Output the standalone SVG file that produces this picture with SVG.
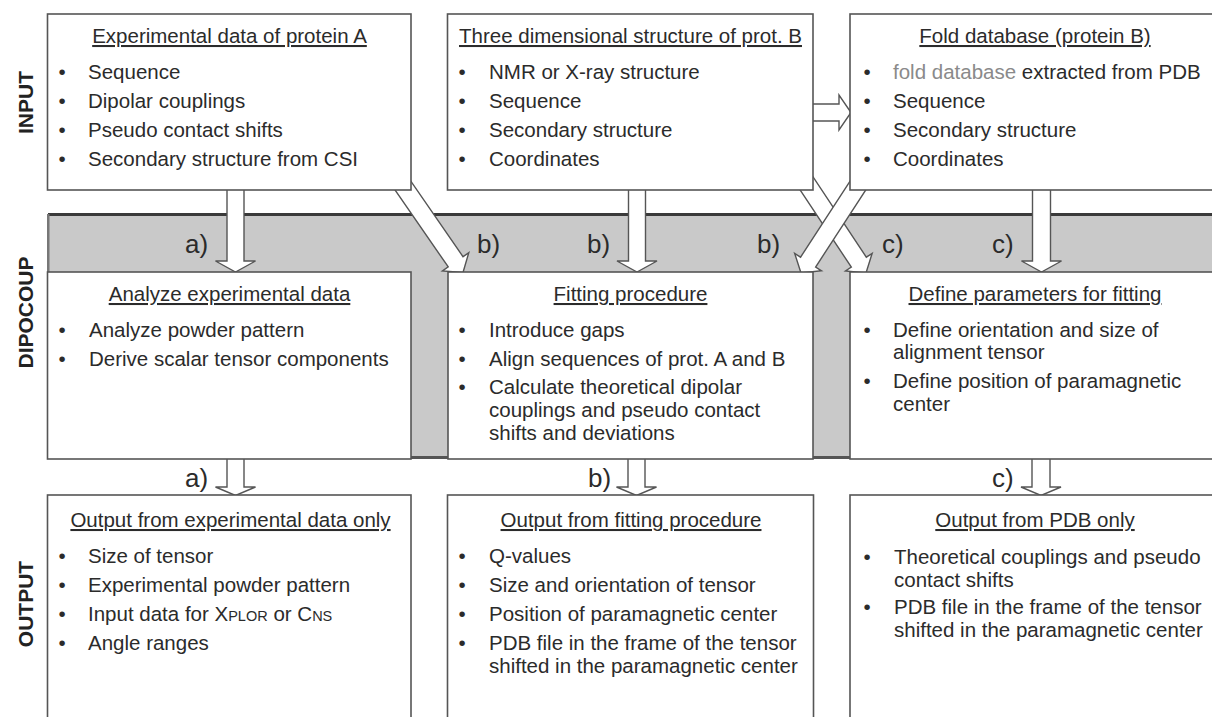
<svg xmlns="http://www.w3.org/2000/svg" width="1212" height="717" viewBox="0 0 1212 717">
<style>
.box{fill:#fff;stroke:#555;stroke-width:1.6}
.t{font-family:"Liberation Sans",Arial,sans-serif;font-size:20.5px;fill:#2b2b2b}
.ti{text-anchor:middle;text-decoration:underline}
.lbl{font-family:"Liberation Sans",Arial,sans-serif;font-size:26px;fill:#2b2b2b}
.row{font-family:"Liberation Sans",Arial,sans-serif;font-size:21px;font-weight:bold;fill:#222;text-anchor:middle}
.arr{fill:#fff;stroke:#555;stroke-width:1.4;stroke-linejoin:miter}
.sc{font-size:14.5px}
.lt{fill:#8a8a8a}
</style>
<rect width="1212" height="717" fill="#fff"/>
<g id="band">
<rect x="48" y="214" width="1170" height="245" fill="#c9c9c9"/>
<rect x="48" y="213" width="1170" height="3" fill="#3a3a3a"/>
<rect x="47" y="214" width="2.5" height="60" fill="#777"/>
<rect x="410" y="456" width="40" height="3" fill="#555"/>
<rect x="812" y="456" width="40" height="3" fill="#555"/>
</g>
<g id="row-labels">
<text class="row" transform="translate(33,102.5) rotate(-90)">INPUT</text>
<text class="row" transform="translate(33,312.5) rotate(-90)">DIPOCOUP</text>
<text class="row" transform="translate(33,604) rotate(-90)">OUTPUT</text>
</g>
<g id="connectors">
<path class="arr" d="M227,188 V261 H215.5 L235.5,272 L255.5,261 H244 V188"/>
<path class="arr" d="M628.5,188 V261 H617 L637,272 L657,261 H645.5 V188"/>
<path class="arr" d="M1032.5,188 V261 H1021.5 L1041.5,272 L1061.5,261 H1050.5 V188"/>
<path class="arr" d="M394.63,173.55 L387.23,178.67 L448.21,266.92 L442.45,270.89 L463,272.5 L468.77,252.71 L463.01,256.68 L402.03,168.43 Z"/>
<path class="arr" d="M792.45,178.3 L851.32,267.13 L845.48,271 L866,273 L872.16,253.32 L866.32,257.19 L807.45,168.36 Z"/>
<path class="arr" d="M858.37,168.33 L800.55,257.19 L794.68,253.38 L801,273 L821.5,270.82 L815.63,267.01 L873.45,178.15 Z"/>
<path class="arr" d="M811,104 H839 V95 L851,112.5 L839,130 V121 H811"/>
<path class="arr" d="M227,457 V487 H215.5 L235.5,495.5 L255.5,487 H244 V457"/>
<path class="arr" d="M628,457 V487 H616.5 L636.5,495.5 L656.5,487 H645 V457"/>
<path class="arr" d="M1032,457 V487 H1021 L1041,495.5 L1061,487 H1050 V457"/>
<text class="lbl" x="185" y="253">a)</text>
<text class="lbl" x="477" y="253">b)</text>
<text class="lbl" x="587" y="253">b)</text>
<text class="lbl" x="757" y="253">b)</text>
<text class="lbl" x="882" y="253">c)</text>
<text class="lbl" x="992" y="253">c)</text>
<text class="lbl" x="185" y="487">a)</text>
<text class="lbl" x="588" y="487">b)</text>
<text class="lbl" x="992" y="487">c)</text>
</g>
<g id="n-expA">
<rect class="box" x="47.5" y="14" width="363.5" height="176"/>
<text class="t ti" x="229.5" y="43">Experimental data of protein A</text>
<text class="t" x="58.5" y="79">•</text><text class="t" x="88" y="79">Sequence</text>
<text class="t" x="58.5" y="108">•</text><text class="t" x="88" y="108">Dipolar couplings</text>
<text class="t" x="58.5" y="137">•</text><text class="t" x="88" y="137">Pseudo contact shifts</text>
<text class="t" x="58.5" y="166">•</text><text class="t" x="88" y="166">Secondary structure from CSI</text>
</g>
<g id="n-structB">
<rect class="box" x="447.5" y="14" width="365.5" height="176"/>
<text class="t ti" x="630.5" y="43">Three dimensional structure of prot. B</text>
<text class="t" x="458.5" y="79">•</text><text class="t" x="489" y="79">NMR or X-ray structure</text>
<text class="t" x="458.5" y="108">•</text><text class="t" x="489" y="108">Sequence</text>
<text class="t" x="458.5" y="137">•</text><text class="t" x="489" y="137">Secondary structure</text>
<text class="t" x="458.5" y="166">•</text><text class="t" x="489" y="166">Coordinates</text>
</g>
<g id="n-fold">
<rect class="box" x="850" y="14" width="370" height="176"/>
<text class="t ti" x="1035" y="43">Fold database (protein B)</text>
<text class="t" x="863.5" y="79">•</text><text class="t" x="893" y="79"><tspan class="lt">fold database</tspan> extracted from PDB</text>
<text class="t" x="863.5" y="108">•</text><text class="t" x="893" y="108">Sequence</text>
<text class="t" x="863.5" y="137">•</text><text class="t" x="893" y="137">Secondary structure</text>
<text class="t" x="863.5" y="166">•</text><text class="t" x="893" y="166">Coordinates</text>
</g>
<g id="n-analyze">
<rect class="box" x="47.5" y="272" width="363.5" height="187"/>
<text class="t ti" x="229.5" y="301">Analyze experimental data</text>
<text class="t" x="58.5" y="337">•</text><text class="t" x="89" y="337">Analyze powder pattern</text>
<text class="t" x="58.5" y="366">•</text><text class="t" x="89" y="366">Derive scalar tensor components</text>
</g>
<g id="n-fitting">
<rect class="box" x="448" y="272" width="365" height="187"/>
<text class="t ti" x="630.5" y="301">Fitting procedure</text>
<text class="t" x="458.5" y="337">•</text><text class="t" x="489" y="337">Introduce gaps</text>
<text class="t" x="458.5" y="366">•</text><text class="t" x="489" y="366">Align sequences of prot. A and B</text>
<text class="t" x="458.5" y="394">•</text><text class="t" x="489" y="394">Calculate theoretical dipolar</text>
<text class="t" x="489" y="417">couplings and pseudo contact</text>
<text class="t" x="489" y="440">shifts and deviations</text>
</g>
<g id="n-params">
<rect class="box" x="850" y="272" width="370" height="187"/>
<text class="t ti" x="1035" y="301">Define parameters for fitting</text>
<text class="t" x="863.5" y="337">•</text><text class="t" x="893" y="337">Define orientation and size of</text>
<text class="t" x="893" y="359">alignment tensor</text>
<text class="t" x="863.5" y="388">•</text><text class="t" x="893" y="388">Define position of paramagnetic</text>
<text class="t" x="893" y="411">center</text>
</g>
<g id="n-outA">
<rect class="box" x="47.5" y="495" width="363.5" height="230"/>
<text class="t ti" x="230.5" y="527">Output from experimental data only</text>
<text class="t" x="58.5" y="563">•</text><text class="t" x="88" y="563">Size of tensor</text>
<text class="t" x="58.5" y="592">•</text><text class="t" x="88" y="592">Experimental powder pattern</text>
<text class="t" x="58.5" y="621">•</text><text class="t" x="88" y="621">Input data for X<tspan class="sc">PLOR</tspan> or C<tspan class="sc">NS</tspan></text>
<text class="t" x="58.5" y="650">•</text><text class="t" x="88" y="650">Angle ranges</text>
</g>
<g id="n-outFit">
<rect class="box" x="447.5" y="495" width="366" height="230"/>
<text class="t ti" x="631" y="527">Output from fitting procedure</text>
<text class="t" x="458.5" y="563">•</text><text class="t" x="489" y="563">Q-values</text>
<text class="t" x="458.5" y="592">•</text><text class="t" x="489" y="592">Size and orientation of tensor</text>
<text class="t" x="458.5" y="621">•</text><text class="t" x="489" y="621">Position of paramagnetic center</text>
<text class="t" x="458.5" y="650">•</text><text class="t" x="489" y="650">PDB file in the frame of the tensor</text>
<text class="t" x="489" y="673">shifted in the paramagnetic center</text>
</g>
<g id="n-outPDB">
<rect class="box" x="850" y="495" width="370" height="230"/>
<text class="t ti" x="1035" y="527">Output from PDB only</text>
<text class="t" x="863.5" y="564">•</text><text class="t" x="894" y="564">Theoretical couplings and pseudo</text>
<text class="t" x="894" y="587">contact shifts</text>
<text class="t" x="863.5" y="614">•</text><text class="t" x="894" y="614">PDB file in the frame of the tensor</text>
<text class="t" x="894" y="637">shifted in the paramagnetic center</text>
</g>
</svg>
